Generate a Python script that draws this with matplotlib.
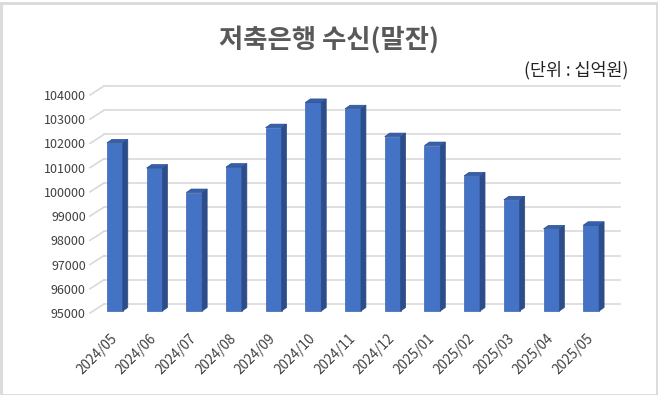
import matplotlib
matplotlib.use("Agg")
import matplotlib.pyplot as plt
import matplotlib.transforms as mtransforms
from matplotlib.patches import Polygon, Rectangle

plt.rcParams["font.family"] = ["Noto Sans CJK KR", "DejaVu Sans"]

months = ["2024/05", "2024/06", "2024/07", "2024/08", "2024/09", "2024/10", "2024/11",
          "2024/12", "2025/01", "2025/02", "2025/03", "2025/04", "2025/05"]
deposits = [101940, 100900, 99890, 100940, 102570, 103610, 103350,
            102200, 101830, 100580, 99590, 98390, 98540]
yticks = list(range(95000, 104001, 1000))
title = "저축은행 수신(말잔)"
unit = "(단위 : 십억원)"

W, H = 658, 395
fig = plt.figure(figsize=(W / 100, H / 100), dpi=100)
fig.patch.set_facecolor("white")

# front plane of the 3D box, in pixels
left, right, bottom, top = 90, 606, 313, 95
ax = fig.add_axes([left / W, (H - bottom) / H, (right - left) / W, (bottom - top) / H])
ax.set_xlim(-0.5, len(months) - 0.5)
ax.set_ylim(yticks[0], yticks[-1])
ax.set_facecolor("none")
for s in ax.spines.values():
    s.set_visible(False)

px_x = (len(months)) / (right - left)          # data units per pixel (x)
px_y = (yticks[-1] - yticks[0]) / (bottom - top)  # data units per pixel (y)

# back wall gridlines + left diagonal stubs
back_dx, back_dy = 14, 9
grid_color = "#d9d9d9"
for v in yticks:
    ax.plot([-0.5 + back_dx * px_x, len(months) - 0.5 + back_dx * px_x],
            [v + back_dy * px_y] * 2, color=grid_color, lw=1.2, zorder=1, clip_on=False)
    ax.plot([-0.5, -0.5 + back_dx * px_x], [v, v + back_dy * px_y],
            color=grid_color, lw=1.2, zorder=1, clip_on=False)

# 3D columns
bar_w = 0.40
off_x, off_y = 5 * px_x, 2 * px_y
side_dx, side_dy = 5 * px_x, 3.5 * px_y
base = yticks[0]
for i, v in enumerate(deposits):
    x0 = i - bar_w / 2 + off_x
    x1 = i + bar_w / 2 + off_x
    y0 = base + off_y
    y1 = v + off_y
    ax.add_patch(Rectangle((x0, y0), bar_w, y1 - y0, facecolor="#4472c4",
                           edgecolor="#3a64b0", lw=0.5, zorder=3, clip_on=False))
    ax.add_patch(Polygon([(x1, y0), (x1 + side_dx, y0 + side_dy), (x1 + side_dx, y1 + side_dy), (x1, y1)],
                         closed=True, facecolor="#2c4d8a", edgecolor="#2c4d8a", lw=0.5,
                         zorder=3, clip_on=False))
    ax.add_patch(Polygon([(x0, y1), (x1, y1), (x1 + side_dx, y1 + side_dy), (x0 + side_dx, y1 + side_dy)],
                         closed=True, facecolor="#3560ad", edgecolor="#2c4d8a", lw=0.5,
                         zorder=3, clip_on=False))

ax.set_yticks(yticks)
ax.set_yticklabels([str(v) for v in yticks], fontsize=9, color="#404040")
ax.set_xticks(range(len(months)))
ax.set_xticklabels(months, fontsize=9.8, color="#404040", rotation=45, ha="right",
                   rotation_mode="anchor")
ax.tick_params(axis="both", length=0)
ax.tick_params(axis="y", pad=3)
ax.tick_params(axis="x", pad=13)

fig.text(329 / W, 1 - 40 / H, title, ha="center", va="center", fontsize=19,
         fontweight="bold", color="#595959")
fig.text(628 / W, 1 - 70 / H, unit, ha="right", va="center", fontsize=12.5, color="#222222")

# light frame round the image
fig.patches.append(Rectangle((0.5 / W, 0.5 / H), 1 - 2 / W, 1 - 3 / H, transform=fig.transFigure,
                             fill=False, edgecolor="#d9d9d9", lw=2))

fig.savefig("out.png", dpi=100)
